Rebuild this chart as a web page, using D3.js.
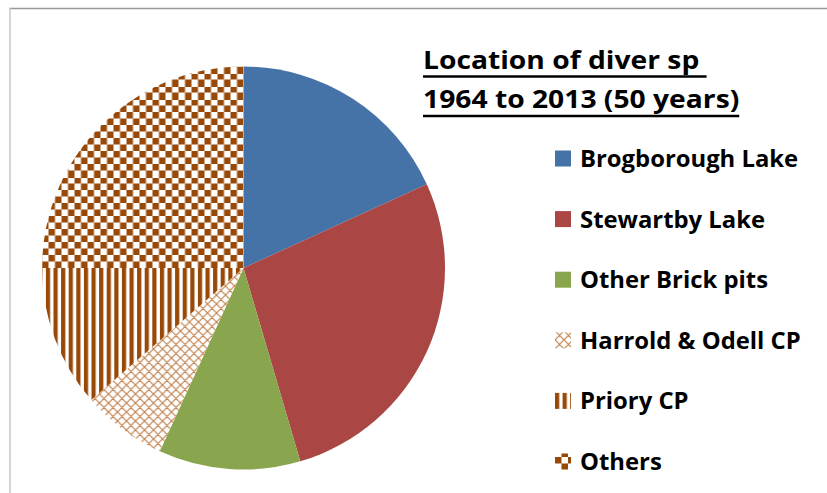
<!DOCTYPE html>
<html lang="en">
<head>
<meta charset="UTF-8">
<title>Location of diver sp</title>
<script src="https://d3js.org/d3.v7.min.js"></script>
<style>
  body { margin: 0; background: #fff; }
  svg text { font-family: "Open Sans", Calibri, Lato, sans-serif; font-weight: bold; fill: #000; }
</style>
</head>
<body>
<svg width="827" height="493"></svg>
<script>
// chart data
const categories = ["Brogborough Lake", "Stewartby Lake", "Other Brick pits", "Harrold & Odell CP", "Priory CP", "Others"];
const counts = [8, 12, 5, 3, 5, 11];
const fills = ["#4572a7", "#aa4643", "#89a54e", "url(#grid)", "url(#stripes)", "url(#checker)"];
const titleLines = ["Location of diver sp ", "1964 to 2013 (50 years)"];

const width = 827, height = 493;
const cx = 243.5, cy = 268, radius = 201.5;
const brown = "#984807";

const svg = d3.select("svg");

// frame lines (chart area border, partly cut off)
svg.append("line").attr("x1", 9).attr("x2", width).attr("y1", 8.5).attr("y2", 8.5)
    .attr("stroke", "#999").attr("stroke-width", 1.5);
svg.append("line").attr("x1", 10).attr("x2", 10).attr("y1", 8).attr("y2", height)
    .attr("stroke", "#c8c8c8").attr("stroke-width", 1.5);

// fill patterns
const defs = svg.append("defs");

const checker = defs.append("pattern").attr("id", "checker")
    .attr("patternUnits", "userSpaceOnUse").attr("width", 13).attr("height", 13);
checker.append("rect").attr("width", 13).attr("height", 13).attr("fill", "#fff");
checker.append("rect").attr("width", 6.5).attr("height", 6.5).attr("fill", brown);
checker.append("rect").attr("x", 6.5).attr("y", 6.5).attr("width", 6.5).attr("height", 6.5).attr("fill", brown);

const stripes = defs.append("pattern").attr("id", "stripes")
    .attr("patternUnits", "userSpaceOnUse").attr("width", 7.6).attr("height", 8);
stripes.append("rect").attr("width", 7.6).attr("height", 8).attr("fill", "#fff");
stripes.append("rect").attr("width", 4.2).attr("height", 8).attr("fill", brown);

const grid = defs.append("pattern").attr("id", "grid")
    .attr("patternUnits", "userSpaceOnUse").attr("width", 9).attr("height", 9);
grid.append("rect").attr("width", 9).attr("height", 9).attr("fill", "#fff");
grid.append("path").attr("d", "M0,0L9,9M9,0L0,9M-1,8L1,10M8,-1L10,1")
    .attr("stroke", "#c0824f").attr("stroke-width", 1.2).attr("fill", "none");

// pie
const pie = d3.pie().sort(null).value(d => d);
const arc = d3.arc().innerRadius(0).outerRadius(radius);

svg.append("g")
    .attr("transform", `translate(${cx},${cy})`)
    .selectAll("path")
    .data(pie(counts))
    .join("path")
    .attr("d", arc)
    .attr("fill", (d, i) => fills[i]);

// title with underline (stretched a bit to mimic Calibri widths)
const title = svg.append("g").attr("transform", "translate(423,0) scale(1.13,1)");
titleLines.forEach((t, i) => {
    const y = 69 + i * 39.5;
    const txt = title.append("text")
        .attr("x", 0).attr("y", y)
        .attr("font-size", 25)
        .attr("xml:space", "preserve")
        .style("white-space", "pre")
        .text(t);
    const w = txt.node().getComputedTextLength();
    title.append("line")
        .attr("x1", 0).attr("x2", w)
        .attr("y1", y + 7.5).attr("y2", y + 7.5)
        .attr("stroke", "#000").attr("stroke-width", 2.5);
});

// legend
const legend = svg.append("g");
const rows = legend.selectAll("g")
    .data(categories)
    .join("g")
    .attr("transform", (d, i) => `translate(555,${167 + i * 60.6})`);

rows.append("rect")
    .attr("x", 0).attr("y", -16.5)
    .attr("width", 16).attr("height", 16)
    .attr("fill", (d, i) => fills[i]);

rows.append("text")
    .attr("transform", "translate(25,0) scale(1.06,1)")
    .attr("font-size", 22.5)
    .text(d => d);
</script>
</body>
</html>
